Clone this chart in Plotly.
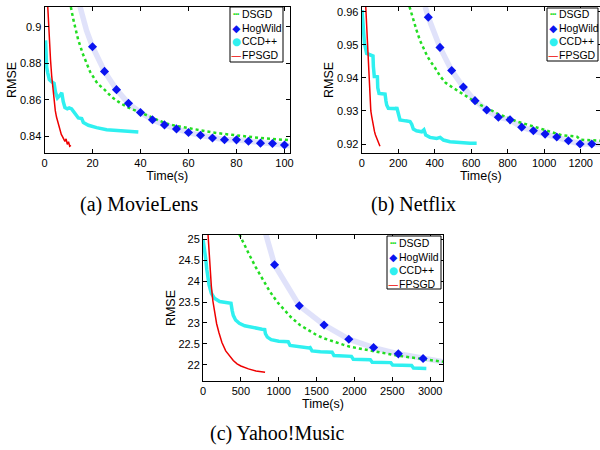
import plotly.graph_objects as go

W, H = 600, 450

# ---------------- (a) MovieLens ----------------
dsgd_a_t = [10.5, 12, 14, 16, 19, 22, 25, 28, 32, 36, 40, 45, 50, 55, 60, 65, 70, 75, 80, 85, 90, 95, 102.3]
dsgd_a = [0.914, 0.904, 0.893, 0.885, 0.8753, 0.869, 0.8655, 0.8615, 0.8578, 0.855, 0.853, 0.8502, 0.8473,
          0.8456, 0.8443, 0.8432, 0.8421, 0.8412, 0.8404, 0.8397, 0.839, 0.8385, 0.8378]
hog_a_t = [20, 25, 30, 35, 40, 45, 50, 55, 60, 65, 70, 75, 80, 85, 90, 95, 100]
hog_a = [0.889, 0.8755, 0.8655, 0.858, 0.853, 0.849, 0.8462, 0.844, 0.842, 0.8405, 0.839, 0.8381, 0.838,
         0.8372, 0.8362, 0.836, 0.8352]
hogline_a_t = [14.8, 16, 17.5] + hog_a_t + [102.3]
hogline_a = [0.911, 0.905, 0.898] + hog_a + [0.8348]
ccd_a_t = [0.45, 0.55, 0.9, 1.3, 2.0, 3.0, 4.0, 4.6, 5.4, 6.5, 7.2, 7.8, 8.5, 9.5, 10.3, 11.3, 12.6, 14.1,
           15.5, 16.2, 18.3, 21.7, 25.9, 31.5, 39.1]
ccd_a = [0.8925, 0.886, 0.878, 0.875, 0.871, 0.8698, 0.869, 0.864, 0.861, 0.8625, 0.8638, 0.859, 0.8557,
         0.855, 0.8555, 0.855, 0.8525, 0.850, 0.8497, 0.8475, 0.846, 0.8447, 0.8436, 0.8429, 0.8423]
fpsgd_a_t = [1.2, 1.6, 2.0, 2.5, 3.0, 3.5, 4.0, 4.5, 5.0, 5.5, 6.0, 6.5, 7.0, 7.5, 8.0, 8.5, 9.0, 9.5,
             10.0, 10.5, 11.0]
fpsgd_a = [0.915, 0.903, 0.893, 0.882, 0.873, 0.865, 0.8585, 0.854, 0.8505, 0.848, 0.845, 0.8428, 0.841,
           0.8398, 0.838, 0.8372, 0.8385, 0.8355, 0.837, 0.8345, 0.835]

# ---------------- (b) Netflix ----------------
dsgd_b_t = [262, 280, 300, 320, 340, 360, 380, 400, 430, 460, 500, 550, 600, 650, 700, 750, 800, 850,
            900, 950, 1000, 1050, 1100, 1150, 1180, 1200, 1250, 1306]
dsgd_b = [0.9615, 0.958, 0.9545, 0.9512, 0.9487, 0.9465, 0.9447, 0.9432, 0.9405, 0.9385, 0.937, 0.9352,
          0.9335, 0.9318, 0.9305, 0.929, 0.928, 0.9268, 0.926, 0.9252, 0.9244, 0.9236, 0.9226, 0.9224,
          0.9222, 0.9213, 0.9211, 0.921]
hog_b_t = [365, 429, 493, 557, 621, 685, 749, 813, 877, 941, 1005, 1069, 1133, 1197, 1261]
hog_b = [0.9583, 0.9492, 0.9422, 0.9372, 0.9331, 0.9303, 0.9281, 0.9273, 0.9251, 0.924, 0.923, 0.9221,
         0.921, 0.92, 0.92]
hogline_b_t = [348] + hog_b_t + [1306]
hogline_b = [0.9615] + hog_b + [0.9199]
ccd_b_t = [2, 9, 15, 27, 45, 62, 64, 69, 75, 86, 88, 95, 110, 128, 133, 137, 146, 170, 188, 192, 201,
           210, 240, 265, 274, 283, 300, 329, 341, 351, 374, 411, 430, 448, 484, 539, 594, 630]
ccd_b = [0.9605, 0.9545, 0.9505, 0.9474, 0.9469, 0.9466, 0.9434, 0.9404, 0.9404, 0.9403, 0.937, 0.9353,
         0.9352, 0.9351, 0.933, 0.9318, 0.9308, 0.9307, 0.9307, 0.9311, 0.9288, 0.9273, 0.927, 0.9268,
         0.926, 0.9245, 0.924, 0.9237, 0.9243, 0.9227, 0.922, 0.9217, 0.922, 0.9212, 0.9207, 0.9204,
         0.9202, 0.9202]
fpsgd_b_t = [20, 25, 30, 35, 40, 45, 50, 55, 60, 65, 70, 75, 80, 90, 100]
fpsgd_b = [0.964, 0.958, 0.9513, 0.9455, 0.9404, 0.935, 0.93, 0.9283, 0.9265, 0.9251, 0.9238, 0.9228,
           0.9221, 0.9205, 0.9193]

# ---------------- (c) Yahoo!Music ----------------
dsgd_c_t = [480, 550, 620, 700, 780, 880, 980, 1060, 1160, 1280, 1400, 1500, 1600, 1720, 1850, 1940, 2050,
            2160, 2270, 2380, 2500, 2600, 2720, 2820, 2940, 3040, 3170]
dsgd_c = [25.12, 24.85, 24.6, 24.32, 24.06, 23.76, 23.5, 23.34, 23.14, 22.95, 22.81, 22.71, 22.63, 22.55,
          22.48, 22.43, 22.39, 22.35, 22.31, 22.27, 22.24, 22.21, 22.18, 22.15, 22.13, 22.11, 22.07]
hog_c_t = [945, 1272, 1599, 1926, 2253, 2580, 2907]
hog_c = [24.39, 23.41, 22.95, 22.61, 22.41, 22.26, 22.15]
hogline_c_t = [830] + hog_c_t + [3170]
hogline_c = [25.12] + hog_c + [22.07]
ccd_c_t = [0, 20, 35, 50, 65, 80, 110, 150, 220, 300, 370, 385, 400, 430, 480, 550, 620, 700, 780, 815,
           825, 850, 900, 1000, 1110, 1125, 1150, 1250, 1400, 1415, 1440, 1550, 1690, 1705, 1730, 1850,
           1945, 1960, 1985, 2100, 2195, 2210, 2235, 2350, 2465, 2480, 2505, 2620, 2740, 2755, 2780,
           2900, 2950]
ccd_c = [25.0, 24.8, 24.55, 24.28, 24.07, 23.91, 23.71, 23.59, 23.51, 23.48, 23.47, 23.3, 23.18, 23.07,
         22.99, 22.93, 22.9, 22.87, 22.85, 22.84, 22.74, 22.66, 22.6, 22.56, 22.54, 22.55, 22.46, 22.43,
         22.4, 22.41, 22.33, 22.31, 22.29, 22.3, 22.22, 22.2, 22.19, 22.2, 22.13, 22.12, 22.11, 22.12,
         22.06, 22.05, 22.04, 22.05, 21.99, 21.98, 21.97, 21.98, 21.92, 21.91, 21.91]
fpsgd_c_t = [60, 70, 80, 90, 110, 130, 150, 180, 210, 250, 300, 350, 400, 450, 500, 600, 700, 820]
fpsgd_c = [25.3, 24.95, 24.62, 24.33, 23.88, 23.53, 23.27, 22.98, 22.77, 22.53, 22.33, 22.2, 22.1, 22.02,
           21.97, 21.9, 21.85, 21.82]

# ticks
xticks_a = [0, 20, 40, 60, 80, 100]
yticks_a = [0.84, 0.86, 0.88, 0.9]
yticktext_a = ["0.84", "0.86", "0.88", "0.9"]
xticks_b = [0, 200, 400, 600, 800, 1000, 1200]
yticks_b = [0.92, 0.93, 0.94, 0.95, 0.96]
yticktext_b = ["0.92", "0.93", "0.94", "0.95", "0.96"]
xticks_c = [0, 500, 1000, 1500, 2000, 2500, 3000]
yticks_c = [22, 22.5, 23, 23.5, 24, 24.5, 25]
yticktext_c = ["22", "22.5", "23", "23.5", "24", "24.5", "25"]

captions = ["(a) MovieLens", "(b) Netflix", "(c) Yahoo!Music"]
series_names = ["DSGD", "HogWild", "CCD++", "FPSGD"]

C_DSGD = "#22dd22"
C_HOG = "#0a14f0"
C_HOGLINE = "rgba(160,165,240,0.32)"
C_CCD = "#2ff0f0"
C_FP = "#ee0000"
legend_keys = ["\u2505", "\u25c6", "\u25cf", "\u2014"]
legend_key_colors = [C_DSGD, C_HOG, C_CCD, C_FP]

fig = go.Figure()

panels = [
    ("x", "y", dsgd_a_t, dsgd_a, hog_a_t, hog_a, hogline_a_t, hogline_a, ccd_a_t, ccd_a, fpsgd_a_t, fpsgd_a),
    ("x2", "y2", dsgd_b_t, dsgd_b, hog_b_t, hog_b, hogline_b_t, hogline_b, ccd_b_t, ccd_b, fpsgd_b_t, fpsgd_b),
    ("x3", "y3", dsgd_c_t, dsgd_c, hog_c_t, hog_c, hogline_c_t, hogline_c, ccd_c_t, ccd_c, fpsgd_c_t, fpsgd_c),
]

for (xa, ya, dt, dv, ht, hv, hlt, hlv, ct, cv, ft, fv) in panels:
    fig.add_trace(go.Scatter(x=hlt, y=hlv, mode="lines", xaxis=xa, yaxis=ya, showlegend=False,
                             name=series_names[1], line=dict(color=C_HOGLINE, width=5.5), hoverinfo="skip"))
    fig.add_trace(go.Scatter(x=dt, y=dv, mode="lines", name=series_names[0], xaxis=xa, yaxis=ya, showlegend=False,
                             line=dict(color=C_DSGD, width=2.5, dash="dot")))
    fig.add_trace(go.Scatter(x=ht, y=hv, mode="markers", name=series_names[1], xaxis=xa, yaxis=ya,
                             showlegend=False, marker=dict(symbol="diamond", size=7, color=C_HOG)))
    fig.add_trace(go.Scatter(x=ct, y=cv, mode="lines", name=series_names[2], xaxis=xa, yaxis=ya, showlegend=False,
                             line=dict(color=C_CCD, width=3.5)))
    fig.add_trace(go.Scatter(x=ft, y=fv, mode="lines", name=series_names[3], xaxis=xa, yaxis=ya, showlegend=False,
                             line=dict(color=C_FP, width=1.5)))

tickfont = dict(family="Liberation Sans, Arial, sans-serif", size=11, color="black")
titlefont = dict(family="Liberation Sans, Arial, sans-serif", size=12.5, color="black")
axis_common = dict(showline=True, linecolor="black", linewidth=1, mirror="ticks", ticks="inside",
                   ticklen=4, tickcolor="black", showgrid=False, zeroline=False, tickfont=tickfont,
                   automargin=False)


def px_x(p):
    return p / W


def px_y(p):
    return 1 - p / H


fig.update_layout(
    width=W, height=H, margin=dict(l=0, r=0, t=0, b=0, autoexpand=False), autosize=False,
    paper_bgcolor="white", plot_bgcolor="white", showlegend=False,
    xaxis=dict(domain=[px_x(44.5), px_x(290)], range=[0, 102.3], tickvals=xticks_a, anchor="y",
               title=dict(text="Time(s)", font=titlefont, standoff=0), **axis_common),
    yaxis=dict(domain=[px_y(153), px_y(7)], range=[0.8308, 0.9108], tickvals=yticks_a, ticktext=yticktext_a,
               anchor="x", title=dict(text="RMSE", font=titlefont, standoff=0), **axis_common),
    xaxis2=dict(domain=[px_x(361.7), 1.0], range=[0, 1306], tickvals=xticks_b, anchor="y2",
                title=dict(text="Time(s)", font=titlefont, standoff=0), **axis_common),
    yaxis2=dict(domain=[px_y(153), px_y(7)], range=[0.91728, 0.96142], tickvals=yticks_b, ticktext=yticktext_b,
                anchor="x2", title=dict(text="RMSE", font=titlefont, standoff=0), **axis_common),
    xaxis3=dict(domain=[px_x(203), px_x(443)], range=[0, 3170], tickvals=xticks_c, anchor="y3",
                title=dict(text="Time(s)", font=titlefont, standoff=0), **axis_common),
    yaxis3=dict(domain=[px_y(381), px_y(235)], range=[21.61, 25.103], tickvals=yticks_c, ticktext=yticktext_c,
                anchor="x3", title=dict(text="RMSE", font=titlefont, standoff=0), **axis_common),
)

# compact legends (box + key column + label column), one per panel
legend_boxes = [(230, 7, 283, 62), (547, 8, 598, 61), (387, 236, 441, 289)]
leg_font = 10.5
key_html = "<br>".join(f'<span style="color:{c}">{k}</span>' for k, c in zip(legend_keys, legend_key_colors))
lab_html = "<br>".join(series_names)
for (x0, y0, x1, y1) in legend_boxes:
    fig.add_shape(type="rect", xref="paper", yref="paper", x0=px_x(x0), x1=px_x(x1), y0=px_y(y1), y1=px_y(y0),
                  line=dict(color="black", width=1), fillcolor="white", layer="above")
    cy = px_y((y0 + y1) / 2 + 0.5)
    fig.add_annotation(text=key_html, x=px_x(x0 + 6), y=cy, xref="paper", yref="paper", showarrow=False,
                       xanchor="center", yanchor="middle", align="center", borderpad=0,
                       font=dict(family="DejaVu Sans", size=leg_font))
    fig.add_annotation(text=lab_html, x=px_x(x0 + 10.5), y=cy, xref="paper", yref="paper", showarrow=False,
                       xanchor="left", yanchor="middle", align="left", borderpad=0,
                       font=dict(family="Liberation Sans, Arial, sans-serif", size=leg_font, color="black"))

capfont = dict(family="Liberation Serif, Times New Roman, serif", size=20, color="black")
for text, cx, cy in zip(captions, [139, 414, 277], [204, 204, 433]):
    fig.add_annotation(text=text, x=px_x(cx), y=px_y(cy), xref="paper", yref="paper", showarrow=False,
                       font=capfont, xanchor="center", yanchor="middle")

fig.write_html("out.html", config={"displayModeBar": False},
               post_script="document.body.style.margin='0';document.body.style.overflow='hidden';")
